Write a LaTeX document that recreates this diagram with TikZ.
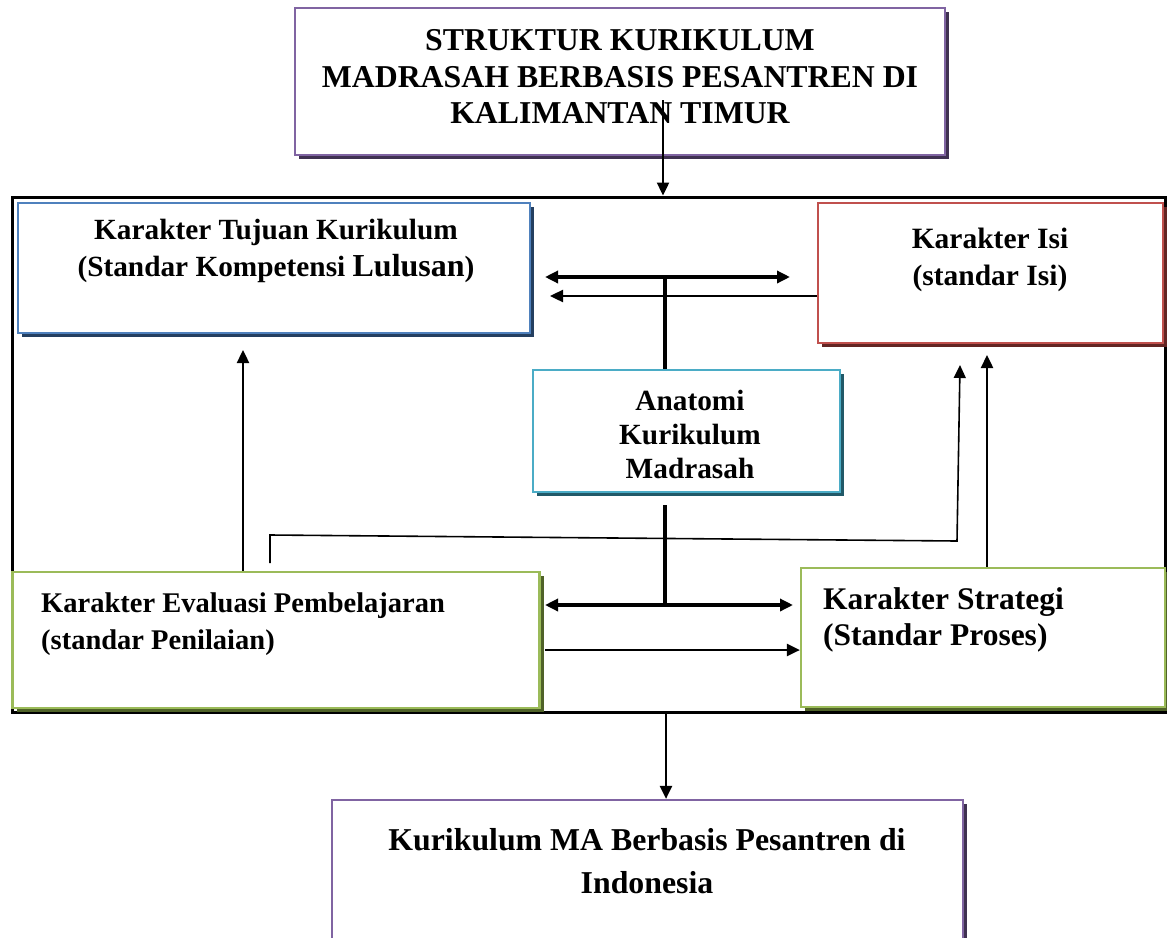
\documentclass[tikz,border=0pt]{standalone}
\usepackage{fontspec}
\setmainfont{Liberation Serif}
\usetikzlibrary{shadows,arrows.meta}
\definecolor{purp}{HTML}{8064A2}\definecolor{purpd}{HTML}{3F3151}
\definecolor{blu}{HTML}{4F81BD}\definecolor{blud}{HTML}{243F60}
\definecolor{rd}{HTML}{C0504D}\definecolor{rdd}{HTML}{632523}
\definecolor{cya}{HTML}{4BACC6}\definecolor{cyad}{HTML}{215968}
\definecolor{grn}{HTML}{9BBB59}\definecolor{grnd}{HTML}{4F6228}
\begin{document}
\begin{tikzpicture}[x=1pt,y=-1pt,
  box/.style n args={2}{draw=#1, line width=2.2pt, fill=white, rectangle, inner sep=0pt,
     drop shadow={shadow xshift=4pt, shadow yshift=-4pt, fill=#2, opacity=1}},
  big/.style={font=\bfseries\fontsize{31.8}{36.5}\selectfont, align=center, inner sep=0pt},
  txt/.style={font=\bfseries\fontsize{28.5}{37}\selectfont, inner sep=0pt},
  tipa/.style={-{Triangle[length=13pt,width=12pt]}},
  tipb/.style={{Triangle[length=13pt,width=12pt]}-{Triangle[length=13pt,width=12pt]}},
  bar/.style={line width=4pt},
  mid/.style={line width=2.4pt},
  fine/.style={line width=1.6pt}]
\useasboundingbox (0,0) rectangle (1167,937);
\clip (0,0) rectangle (1167,937);
% frame
\node[draw, line width=3pt, minimum width=1153pt, minimum height=515pt, inner sep=0pt] (frame) at (588.5,454.5) {};
% boxes
\node[box={purp}{purpd}, minimum width=650pt, minimum height=147pt] (title) at (620,81.5) {};
\node[box={blu}{blud}, minimum width=512pt, minimum height=130pt] (tujuan) at (274,268) {};
\node[box={rd}{rdd}, minimum width=345pt, minimum height=140pt] (isi) at (990.5,273) {};
\node[box={cya}{cyad}, minimum width=307pt, minimum height=122pt] (anat) at (686.5,431) {};
\node[box={grn}{grnd}, minimum width=527pt, minimum height=136pt] (eval) at (276,640) {};
\node[box={grn}{grnd}, minimum width=364pt, minimum height=139pt] (strat) at (983,637.5) {};
\node[box={purp}{purpd}, minimum width=631pt, minimum height=200pt] (bottom) at (647.5,900) {};
% texts
\node[big] (titletxt) at (620,77) {STRUKTUR KURIKULUM\\MADRASAH BERBASIS PESANTREN DI\\KALIMANTAN TIMUR};
\node[txt, align=center, font=\bfseries\fontsize{29.3}{37}\selectfont] (tujuantxt) at (276,251) {Karakter Tujuan Kurikulum\\(Standar Kompetensi {\fontsize{32}{37}\selectfont Lulusan})};
\node[txt, align=center, font=\bfseries\fontsize{29.5}{37}\selectfont] (isitxt) at (990,259.5) {Karakter Isi\\(standar Isi)};
\node[txt, align=center, font=\bfseries\fontsize{29.3}{34}\selectfont] (anattxt) at (690,434) {Anatomi\\Kurikulum\\Madrasah};
\node[txt, align=left, anchor=west] (evaltxt) at (41,624) {Karakter Evaluasi Pembelajaran\\(standar Penilaian)};
\node[txt, align=left, anchor=west, font=\bfseries\fontsize{31.5}{36}\selectfont] (strattxt) at (823,620) {Karakter Strategi\\(Standar Proses)};
\node[big, align=center, font=\bfseries\fontsize{31.8}{43}\selectfont] (bottomtxt) at (647,861.5) {Kurikulum MA Berbasis Pesantren di\\Indonesia};
% coordinates
\coordinate (topstart) at (663,100);
\coordinate (d1l) at (545,277); \coordinate (d1r) at (790,277); \coordinate (d1c) at (665,277);
\coordinate (back) at (550,296);
\coordinate (vlow) at (665,505);
\coordinate (d2l) at (545,605); \coordinate (d2r) at (793,605); \coordinate (d2c) at (665,605);
\coordinate (ev) at (545,650);
\coordinate (uptip) at (243,350);
\coordinate (c1) at (270,563); \coordinate (c2) at (270,535); \coordinate (c3) at (957,541); \coordinate (c4) at (960,365);
\coordinate (rtip) at (987,355);
\coordinate (botx) at (666,712);
% connectors
\draw[mid, tipa] (topstart) -- (topstart |- frame.north);
\draw[bar, tipb] (d1l) -- (d1r);
\draw[mid, tipa] (isi.west |- back) -- (back);
\draw[bar] (d1c) -- (d1c |- anat.north);
\draw[bar] (vlow) -- (d2c);
\draw[bar, tipb] (d2l) -- (d2r);
\draw[mid, tipa] (ev) -- (strat.west |- ev);
\draw[mid, tipa] (uptip |- eval.north) -- (uptip);
\draw[fine, tipa] (c1) -- (c2) -- (c3) -- (c4);
\draw[mid, tipa] (rtip |- strat.north) -- (rtip);
\draw[mid, tipa] (botx) -- (botx |- bottom.north);
\end{tikzpicture}
\end{document}
